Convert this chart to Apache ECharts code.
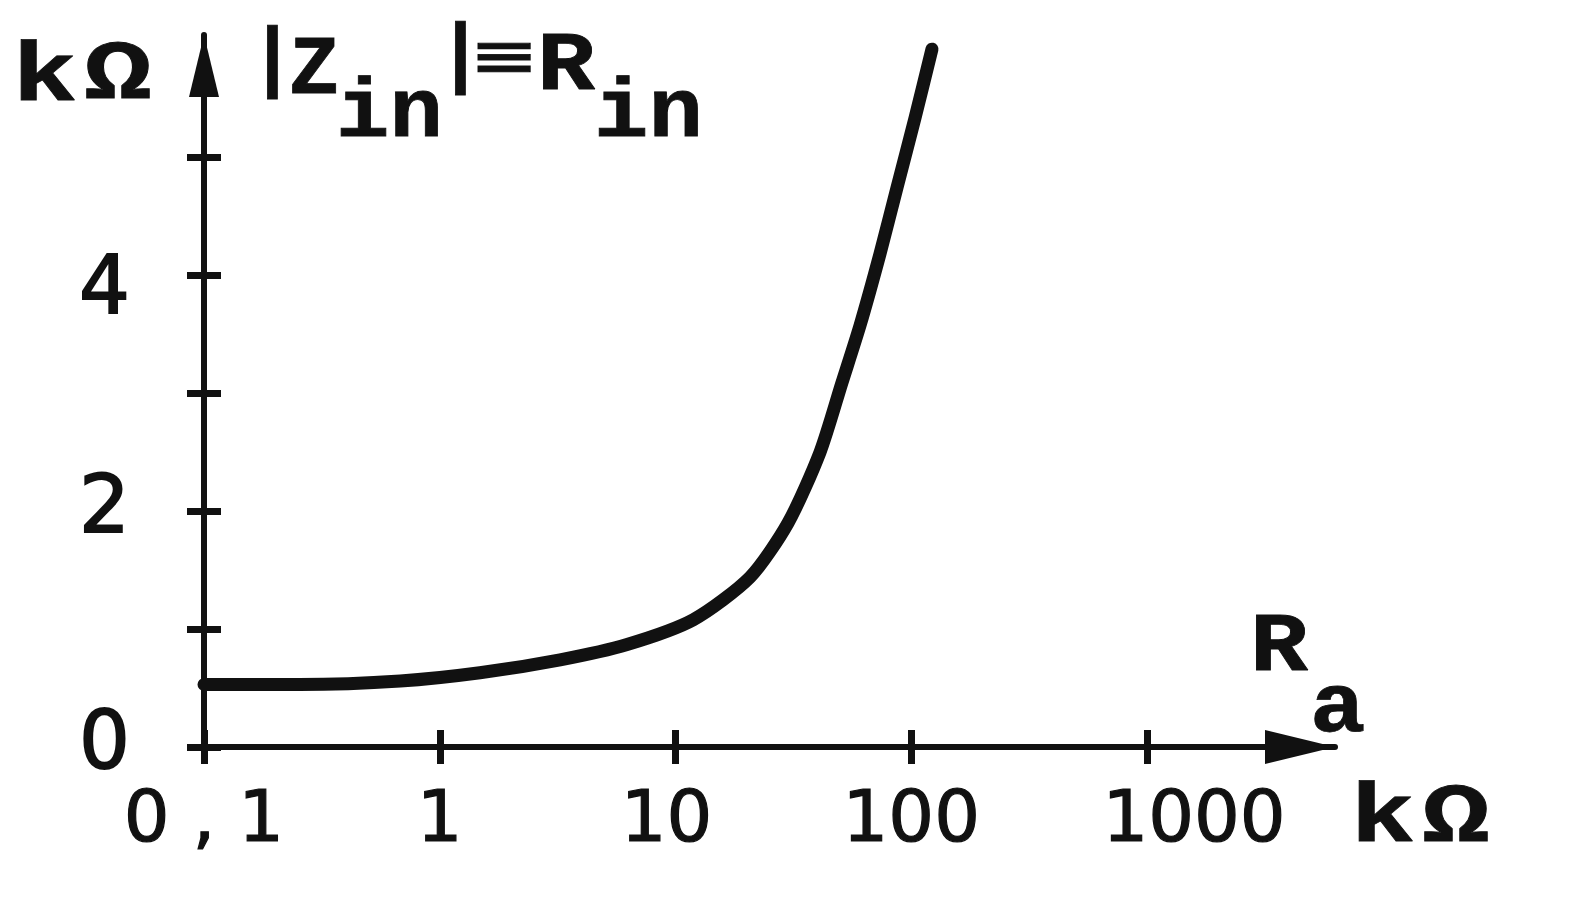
<!DOCTYPE html>
<html>
<head>
<meta charset="utf-8">
<script src="https://cdn.jsdelivr.net/npm/echarts@6/dist/echarts.min.js"></script>
<style>
html,body{margin:0;padding:0;background:#fff;}
#c{width:1580px;height:906px;}
</style>
</head>
<body>
<div id="c"></div>
<script>
// R_a in kΩ (log axis) and |Z_in| in kΩ
const raValues = [0.1, 0.255, 0.68, 1.48, 3.24, 6.23, 11.9, 20.7, 30.0, 41.0, 50.8, 60.7, 73.6, 87.1, 103.8, 122.4];
const zinValues = [0.53, 0.53, 0.56, 0.63, 0.74, 0.87, 1.08, 1.44, 1.90, 2.50, 3.09, 3.58, 4.18, 4.75, 5.34, 5.92];

const xTickValues = [0.1, 1, 10, 100, 1000];
const xTickLabels = ['0 , 1', '1', '10', '100', '1000'];
const yTickValues = [0, 1, 2, 3, 4, 5];
const yLabelValues = [0, 2, 4];
const yLabelTexts = ['0', '2', '4'];

const INK = '#111';
const digitFont = 'DejaVu Sans';
const typeFont = 'Liberation Mono';

function xLabel(v) {
  for (let i = 0; i < xTickValues.length; i++) {
    if (Math.abs(Math.log10(v) - Math.log10(xTickValues[i])) < 1e-6) {
      const t = xTickLabels[i];
      if (xTickValues[i] === 1000) return '{p|' + t + '}';
      if (xTickValues[i] === 10) return '{q|' + t + '}';
      return '{n|' + t + '}';
    }
  }
  return '';
}
function yLabel(v) {
  const i = yLabelValues.indexOf(v);
  if (i < 0) return '';
  return (v === 4 ? '{d4|' : '{d|') + yLabelTexts[i] + '}';
}

const digitStyle = {color: INK, fontFamily: digitFont, fontSize: 72, textBorderColor: INK, textBorderWidth: 1.2};
const yDigitStyle = {color: INK, fontFamily: digitFont, fontSize: 80, textBorderColor: INK, textBorderWidth: 1.8};

const chart = echarts.init(document.getElementById('c'), null, {renderer: 'canvas'});
const data = raValues.map((r, i) => [r, zinValues[i]]);

const baseX = {
  type: 'log', logBase: 10, min: 0.1, max: 6270, gridIndex: 0, position: 'bottom', offset: 0,
  splitLine: {show: false}, minorTick: {show: false}
};
const baseY = {
  type: 'value', min: 0, max: 6.04, gridIndex: 0, position: 'left', offset: 0,
  splitLine: {show: false}
};

function txt(text, x, y, size, sx, family) {
  return {
    type: 'text', x: x, y: y, scaleX: sx, scaleY: 1,
    style: {text: text, font: 'bold ' + size + 'px "' + (family || typeFont) + '"', fill: INK,
      textVerticalAlign: 'middle', stroke: INK, lineWidth: 0.8}
  };
}

chart.setOption({
  backgroundColor: '#fff',
  animation: false,
  grid: {left: 204, right: 245, top: 35, bottom: 159, containLabel: false},
  xAxis: [
    Object.assign({}, baseX, {
      axisLine: {show: true, lineStyle: {color: INK, width: 6}, symbol: ['none', 'triangle'], symbolSize: [34, 70], symbolOffset: [0, -35]},
      axisTick: {show: true, inside: false, length: 17, lineStyle: {color: INK, width: 7}, customValues: xTickValues},
      axisLabel: {show: true, margin: 39, color: INK, fontFamily: digitFont, fontSize: 72, customValues: xTickValues,
        formatter: xLabel,
        rich: {
          n: digitStyle,
          p: Object.assign({padding: [0, 0, 0, 94]}, digitStyle),
          q: Object.assign({padding: [0, 18, 0, 0]}, digitStyle)
        }}
    }),
    Object.assign({}, baseX, {
      axisLine: {show: false},
      axisTick: {show: true, inside: true, length: 17, lineStyle: {color: INK, width: 7}, customValues: xTickValues},
      axisLabel: {show: false}
    })
  ],
  yAxis: [
    Object.assign({}, baseY, {
      axisLine: {show: true, lineStyle: {color: INK, width: 6}, symbol: ['none', 'triangle'], symbolSize: [30, 62], symbolOffset: [0, -31]},
      axisTick: {show: true, inside: false, length: 17, lineStyle: {color: INK, width: 7}, customValues: yTickValues},
      axisLabel: {show: true, margin: 74, color: INK, fontFamily: digitFont, fontSize: 80, customValues: yLabelValues, formatter: yLabel,
        rich: {
          d: yDigitStyle,
          d4: Object.assign({padding: [34, 0, 0, 0]}, yDigitStyle)
        }}
    }),
    Object.assign({}, baseY, {
      axisLine: {show: false},
      axisTick: {show: true, inside: true, length: 17, lineStyle: {color: INK, width: 7}, customValues: yTickValues},
      axisLabel: {show: false}
    })
  ],
  series: [{
    type: 'line',
    xAxisIndex: 0, yAxisIndex: 0,
    data: data,
    smooth: 0.25,
    showSymbol: false,
    clip: false,
    lineStyle: {color: INK, width: 13, cap: 'round', join: 'round'}
  }],
  graphic: [
    txt('k', 12, 79, 84, 1.3),
    txt('Ω', 84, 77, 84, 1.35),
    txt('|', 249, 62, 78, 1),
    txt('Z', 289, 72, 84, 1),
    txt('in', 336, 115, 84, 1.06),
    txt('|', 437, 58, 78, 1),
    txt('≡', 474, 60, 50, 2.0, 'DejaVu Sans Mono'),
    txt('R', 537, 68, 84, 1.15),
    txt('in', 594, 115, 84, 1.08),
    txt('R', 1250, 649, 84, 1.15),
    txt('a', 1310, 710, 84, 1.1),
    txt('k', 1350, 820, 84, 1.3),
    txt('Ω', 1422, 820, 84, 1.35)
  ]
});
</script>
</body>
</html>
